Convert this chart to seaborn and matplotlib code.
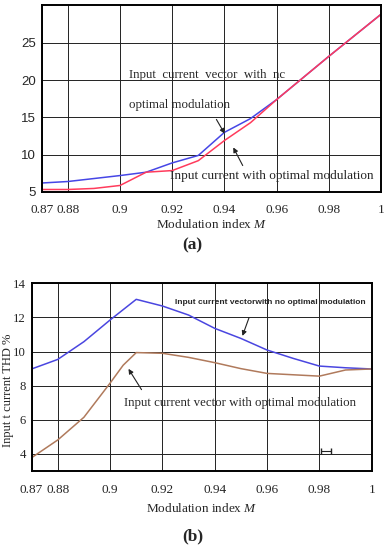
import numpy as np
import pandas as pd
import matplotlib
matplotlib.use("Agg")
import matplotlib.pyplot as plt
import seaborn as sns

# Data
m_index = [0.87, 0.88, 0.89, 0.90, 0.91, 0.92, 0.93, 0.94, 0.95, 0.96, 0.98, 1.00]
mag_no_opt = [6.2, 6.4, 6.8, 7.2, 7.65, 8.9, 9.9, 13.0, 14.85, 17.4, 23.2, 28.85]
mag_opt = [5.33, 5.33, 5.47, 5.87, 7.65, 7.87, 9.2, 11.9, 14.3, 17.4, 23.2, 28.85]

thd_m_no_opt = [0.87, 0.88, 0.89, 0.90, 0.91, 0.92, 0.93, 0.94, 0.95, 0.96, 0.97, 0.98, 0.99, 1.00]
thd_no_opt = [8.98, 9.54, 10.58, 11.85, 13.06, 12.67, 12.14, 11.36, 10.77, 10.09, 9.6, 9.15, 9.05, 8.98]
thd_m_opt = [0.87, 0.88, 0.89, 0.90, 0.905, 0.91, 0.92, 0.93, 0.94, 0.95, 0.96, 0.97, 0.98, 0.99, 1.00]
thd_opt = [3.78, 4.82, 6.15, 8.15, 9.2, 9.94, 9.9, 9.66, 9.35, 9.0, 8.72, 8.64, 8.56, 8.92, 8.98]

x_ticks = [0.87, 0.88, 0.9, 0.92, 0.94, 0.96, 0.98, 1.0]
x_labels = ["0.87", "0.88", "0.9", "0.92", "0.94", "0.96", "0.98", "1"]
a_yticks = [5, 10, 15, 20, 25]
b_yticks = [4, 6, 8, 10, 12, 14]

SERIF = "Liberation Serif"
SANS = "Liberation Sans"
W, H = 392, 550

sns.set_style("white")
plt.rcParams["font.family"] = [SERIF, "DejaVu Serif"]
plt.rcParams["mathtext.fontset"] = "custom"
plt.rcParams["mathtext.it"] = "Liberation Serif:italic"
plt.rcParams["mathtext.rm"] = "Liberation Serif"

fig = plt.figure(figsize=(3.92, 5.5), dpi=100)
ax_a = fig.add_axes([0.1064, 0.651, 0.8656, 0.34])
ax_b = fig.add_axes([0.0806, 0.1436, 0.8676, 0.3413])


def px(x, y):
    # figure pixel (from top-left) -> figure fraction
    return x / W, 1 - y / H


def arrow(p0, p1):
    fig.add_artist(matplotlib.patches.FancyArrowPatch(
        px(*p0), px(*p1), transform=fig.transFigure,
        arrowstyle="-|>", mutation_scale=7, color="#222222", lw=0.8))


def style_axes(ax, yticks, ylim, ytick_font, ytick_size, xlabelpad):
    ax.set_xlim(0.87, 1.0)
    ax.set_ylim(*ylim)
    ax.set_xticks(x_ticks)
    ax.set_xticklabels(x_labels, fontsize=9.5, family=SERIF)
    ax.set_yticks(yticks)
    ax.set_yticklabels([str(v) for v in yticks], fontsize=ytick_size, family=ytick_font)
    ax.tick_params(axis="x", length=0, pad=9)
    ax.tick_params(axis="y", length=0, pad=4)
    ax.grid(True, color="#222222", linewidth=0.7)
    for sp in ax.spines.values():
        sp.set_visible(True)
        sp.set_color("black")
        sp.set_linewidth(1.4)
    ax.set_xlabel("Modulation index $M$", fontsize=9.5, family=SERIF, labelpad=xlabelpad)
    ax.set_ylabel("")


# Panel (a)
df_a = pd.DataFrame({"M": m_index, "no_opt": mag_no_opt, "opt": mag_opt})
sns.lineplot(data=df_a, x="M", y="no_opt", ax=ax_a, color="#4646e6", linewidth=1.1)
sns.lineplot(data=df_a, x="M", y="opt", ax=ax_a, color="#ff3b5c", linewidth=1.1)
style_axes(ax_a, a_yticks, (5, 30.1), SANS, 9.5, 1)

fig.text(*px(129, 75), "Input  current  vector  with  nc", fontsize=9.3, va="center", ha="left")
fig.text(*px(129, 105), "optimal modulation", fontsize=9.3, va="center", ha="left")
fig.text(*px(170, 176), "Input current with optimal modulation", fontsize=9.5,
         va="center", ha="left")
arrow((215, 117), (226, 136))
arrow((244, 168), (232, 145))
fig.text(*px(192, 245), "(a)", fontsize=12.5, fontweight="bold", ha="center", va="center")

# Panel (b)
df_b1 = pd.DataFrame({"M": thd_m_no_opt, "thd": thd_no_opt})
df_b2 = pd.DataFrame({"M": thd_m_opt, "thd": thd_opt})
sns.lineplot(data=df_b1, x="M", y="thd", ax=ax_b, color="#4a46e0", linewidth=1.1)
sns.lineplot(data=df_b2, x="M", y="thd", ax=ax_b, color="#b07a5c", linewidth=1.1)
style_axes(ax_b, b_yticks, (3.0, 14.0), SERIF, 9.2, 5)
ax_b.errorbar([0.9825], [4.15], xerr=[0.0018], color="#222222", capsize=2, lw=0.8, fmt="none")

fig.text(*px(8.0, 390), "Input t current THD %", fontsize=9.0, rotation=90,
         ha="center", va="center")
fig.text(*px(175, 303), "Input current vectorwith no optimal modulation",
         fontsize=6.05, fontweight="bold", family=SANS, va="center", ha="left")
fig.text(*px(124, 403), "Input current vector with optimal modulation",
         fontsize=9.3, va="center", ha="left")
arrow((250, 315), (241.5, 338.5))
arrow((143, 392), (127, 366.5))
fig.text(*px(193, 536), "(b)", fontsize=12.5, fontweight="bold", ha="center", va="center")

fig.savefig("out.png", dpi=100, facecolor="white")
